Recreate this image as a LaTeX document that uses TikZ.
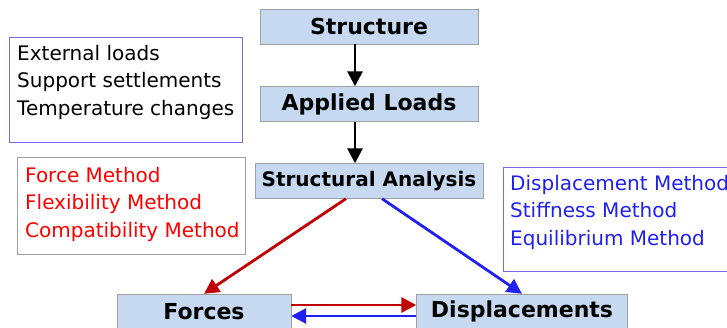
\documentclass[tikz,border=0pt]{standalone}
\usepackage{fontspec}
\setmainfont{DejaVu Sans}
\usetikzlibrary{arrows.meta, positioning}
\definecolor{boxfill}{HTML}{C6D9F0}
\definecolor{boxline}{HTML}{A0A0A0}
\definecolor{listline}{HTML}{7B68EE}
\definecolor{forcered}{HTML}{C00000}
\definecolor{dispblue}{HTML}{2020F0}

\begin{document}
\begin{tikzpicture}[
    x=1pt, y=-1pt,
    >={Triangle[length=15pt, width=15pt]},
    stage/.style={draw=boxline, fill=boxfill, font=\fontsize{22}{24}\selectfont\bfseries, minimum height=35pt, inner sep=0pt},
    listtext/.style={font=\fontsize{20}{27.5}\selectfont, align=left, anchor=north west, inner sep=0pt, text=#1},
    flow/.style={->, line width=2.8pt, #1},
]
    \useasboundingbox (0,0) rectangle (727,328);

    % Main chain
    \node[stage, minimum width=218pt] (struct) at (369,26.5) {Structure};
    \node[stage, minimum width=218pt] (loads) at (369,104) {Applied Loads};
    \node[stage, minimum width=228pt, font=\fontsize{20}{22}\selectfont\bfseries] (analysis) at (369,181) {Structural Analysis};
    \node[stage, minimum width=174pt] (forces) at (204,311.5) {Forces};
    \node[stage, minimum width=211pt] (disp) at (522,311.5) {Displacements};

    % Side lists
    \draw[listline] (9,37) rectangle (242,142);
    \node[listtext=black] (loadlist) at (17,45) {External loads\\Support settlements\\Temperature changes};
    \draw[boxline] (17,157) rectangle (245,254);
    \node[listtext=red] (forcelist) at (25,167) {Force Method\\Flexibility Method\\Compatibility Method};
    \draw[listline] (503,167) rectangle (740,271);
    \node[listtext=dispblue] (displist) at (510,175) {Displacement Method\\Stiffness Method\\Equilibrium Method};

    % Arrows
    \draw[flow=black] (struct.south -| 355,0) -- (loads.north -| 355,0);
    \draw[flow=black] (loads.south -| 355,0) -- (analysis.north -| 355,0);
    \draw[flow=forcered] (analysis.south -| 346,0) -- (forces.north);
    \draw[flow=dispblue] (analysis.south -| 382,0) -- (disp.north);
    \draw[flow=forcered] (forces.east |- 0,305) -- (disp.west |- 0,305);
    \draw[flow=dispblue] (disp.west |- 0,316) -- (forces.east |- 0,316);
\end{tikzpicture}
\end{document}
